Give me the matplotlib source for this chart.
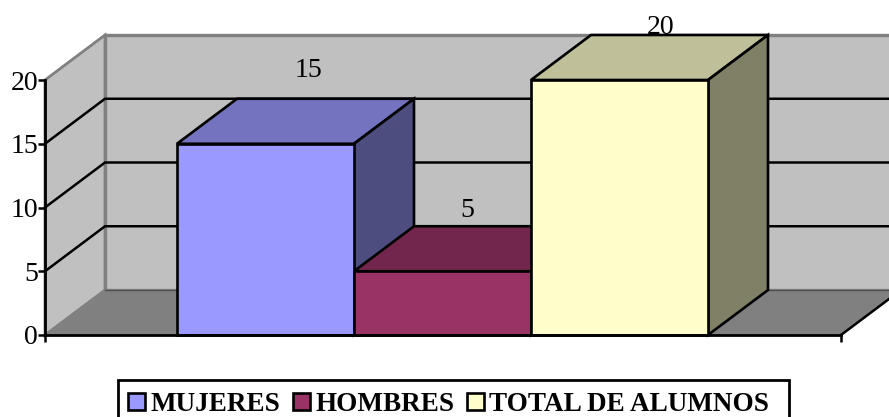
import matplotlib
matplotlib.use('Agg')
import matplotlib.pyplot as plt
from matplotlib.patches import Polygon, Patch, Rectangle

# Data
series = ['MUJERES', 'HOMBRES', 'TOTAL DE ALUMNOS']
values = [15, 5, 20]
yticks = [0, 5, 10, 15, 20]

# Styles
front = ['#9999FF', '#993366', '#FFFFCC']
top = ['#7373BF', '#73264D', '#BFBF99']
side = ['#4D4D80', '#4D1A33', '#808066']
label_dx = [-0.005, -0.11, -0.02]
label_dy = [2.2, 1.2, 0.6]

W, H = 889, 417
plt.rcParams['font.family'] = ['Liberation Serif', 'DejaVu Serif']

fig = plt.figure(figsize=(W/100, H/100), dpi=100)
ax = fig.add_axes([45/W, 1-335/H, (841-45)/W, (335-80)/H])
ax.patch.set_visible(False)

# one x unit is the bar width, 177 px
xmin = -0.5 - 132/177
xmax = 2.5 + 133/177
ax.set_xlim(xmin, xmax)
ax.set_ylim(0, 20)
dx = 60/177
dy = 45/12.75

def poly(pts, fc, ec='black', lw=1.9, z=1):
    ax.add_patch(Polygon(pts, closed=True, fc=fc, ec=ec, lw=lw, zorder=z,
                         clip_on=False, joinstyle='miter'))

# walls and floor
poly([(xmin, 0), (xmin+dx, dy), (xmax+dx, dy), (xmax, 0)], '#808080', ec='#808080', lw=1, z=1)
poly([(xmin+dx, dy), (xmin+dx, 20+dy), (xmax+dx, 20+dy), (xmax+dx, dy)], '#C0C0C0', ec='#808080', lw=2.4, z=1.1)
poly([(xmin, 0), (xmin, 20), (xmin+dx, 20+dy), (xmin+dx, dy)], '#C0C0C0', ec='#808080', lw=2, z=1.2)
ax.plot([xmax, xmax+dx], [0, dy], color='black', lw=1.8, zorder=1.3, clip_on=False)
ax.plot([xmin+dx, xmax+dx], [dy, dy], color='#505050', lw=1, zorder=1.3, clip_on=False)

# gridlines
for v in yticks[1:-1]:
    ax.plot([xmin, xmin+dx, xmax+dx], [v, v+dy, v+dy], color='black', lw=1.8,
            zorder=1.5, clip_on=False, solid_joinstyle='miter')

# bars, left to right
for i, v in enumerate(values):
    z = 2 + i
    ax.bar(i, v, width=1, color=front[i], edgecolor='black', linewidth=1.9, zorder=z+0.2, clip_on=False)
    poly([(i-0.5, v), (i-0.5+dx, v+dy), (i+0.5+dx, v+dy), (i+0.5, v)], top[i], z=z)
    poly([(i+0.5, 0), (i+0.5+dx, dy), (i+0.5+dx, v+dy), (i+0.5, v)], side[i], z=z)
    ax.text(i+dx/2+0.08+label_dx[i], v+dy+label_dy[i], str(v), ha='center', va='center',
            fontsize=20, color='black', zorder=10, clip_on=False)

# axes lines
for s in ['top', 'right']:
    ax.spines[s].set_visible(False)
for s in ['left', 'bottom']:
    ax.spines[s].set_linewidth(2)
    ax.spines[s].set_zorder(8)
ax.set_yticks(yticks)
ax.set_xticks([xmin, xmax])
ax.set_xticklabels(['', ''])
ax.tick_params(axis='y', length=5, width=1.8, labelsize=20, pad=0)
ax.tick_params(axis='x', length=5, width=1.8)

# legend, box runs off the bottom of the picture
fig.add_artist(Rectangle((118/W, 1-422/H), (789-118)/W, 42/H, transform=fig.transFigure,
                         fc='white', ec='black', lw=2, zorder=5))
handles = [Patch(fc=c, ec='black', lw=1.9) for c in front]
leg = fig.legend(handles, series, loc='upper left', ncol=3,
                 bbox_to_anchor=(128/W, 1-392/H), bbox_transform=fig.transFigure,
                 frameon=False,
                 prop={'family': 'Liberation Serif', 'weight': 'bold', 'size': 19.5},
                 borderaxespad=0, borderpad=0, handlelength=0.62, handleheight=0.62,
                 handletextpad=0.2, columnspacing=0.48, labelspacing=0)
leg.set_zorder(6)

fig.savefig('out.png', dpi=100)
